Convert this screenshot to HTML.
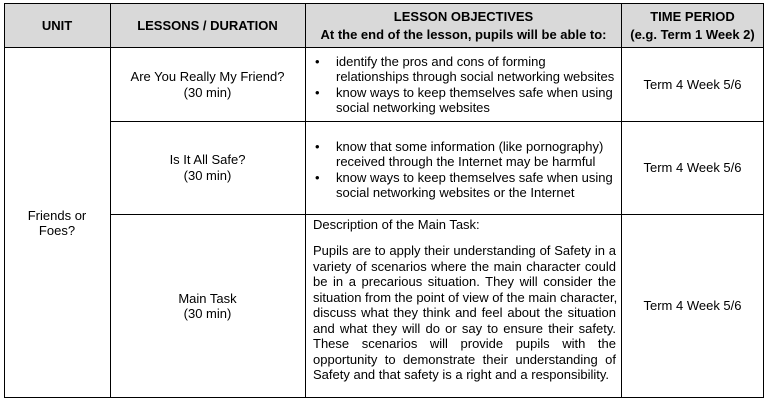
<!DOCTYPE html>
<html><head><meta charset="utf-8"><style>
body{margin:0;width:767px;height:401px;background:#fff;font-family:"Liberation Sans",Arial,sans-serif;font-size:13px;color:#000;position:relative;overflow:hidden}
.c{position:absolute;box-sizing:border-box;display:flex;align-items:center;justify-content:center;text-align:center;line-height:15.5px}
.hd{background:#d9d9d9;font-weight:bold;font-size:13px;line-height:18px}
.ln{position:absolute;background:#000}
ul{margin:0;padding:0;list-style:none;text-align:left}
li{position:relative;padding-left:22px;white-space:nowrap}
li:before{content:"•";position:absolute;left:1px;font-size:13px}
.j span{display:block;text-align:justify;text-align-last:justify;white-space:nowrap}
.j span.l{text-align-last:left}
</style></head><body>
<div class="c hd" style="left:4px;top:3px;width:106px;height:45px">UNIT</div>
<div class="c hd" style="left:110px;top:3px;width:195px;height:45px">LESSONS / DURATION</div>
<div class="c hd" style="left:305px;top:3px;width:317px;height:45px">LESSON OBJECTIVES<br>At the end of the lesson, pupils will be able to:</div>
<div class="c hd" style="left:622px;top:3px;width:141px;height:45px">TIME PERIOD<br>(e.g. Term 1 Week 2)</div>

<div class="c" style="left:4px;top:48px;width:106px;height:350px">Friends or<br>Foes?</div>

<div class="c" style="left:110px;top:48px;width:195px;height:73px">Are You Really My Friend?<br>(30 min)</div>
<div class="c" style="left:305px;top:48px;width:317px;height:73px;justify-content:flex-start;padding-left:9px"><ul><li>identify the pros and cons of forming<br>relationships through social networking websites</li><li>know ways to keep themselves safe when using<br>social networking websites</li></ul></div>
<div class="c" style="left:622px;top:48px;width:141px;height:73px">Term 4 Week 5/6</div>

<div class="c" style="left:110px;top:121px;width:195px;height:93px">Is It All Safe?<br>(30 min)</div>
<div class="c" style="left:305px;top:121px;width:317px;height:93px;justify-content:flex-start;padding-left:9px;padding-top:4px"><ul><li>know that some information (like pornography)<br>received through the Internet may be harmful</li><li>know ways to keep themselves safe when using<br>social networking websites or the Internet</li></ul></div>
<div class="c" style="left:622px;top:121px;width:141px;height:93px">Term 4 Week 5/6</div>

<div class="c" style="left:110px;top:214px;width:195px;height:184px">Main Task<br>(30 min)</div>
<div class="j" style="position:absolute;left:313px;top:217px;width:303px;line-height:15.5px">
<span class="l">Description of the Main Task:</span><span class="l" style="height:10.5px"></span>
<span>Pupils are to apply their understanding of Safety in a</span>
<span>variety of scenarios where the main character could</span>
<span>be in a precarious situation. They will consider the</span>
<span>situation from the point of view of the main character,</span>
<span>discuss what they think and feel about the situation</span>
<span>and what they will do or say to ensure their safety.</span>
<span>These scenarios will provide pupils with the</span>
<span>opportunity to demonstrate their understanding of</span>
<span class="l">Safety and that safety is a right and a responsibility.</span>
</div>
<div class="c" style="left:622px;top:214px;width:141px;height:184px">Term 4 Week 5/6</div>

<div class="ln" style="left:4px;top:3px;width:760px;height:1px"></div>
<div class="ln" style="left:4px;top:47px;width:760px;height:1px"></div>
<div class="ln" style="left:110px;top:121px;width:654px;height:1px"></div>
<div class="ln" style="left:110px;top:214px;width:654px;height:1px"></div>
<div class="ln" style="left:4px;top:397px;width:760px;height:1px"></div>
<div class="ln" style="left:4px;top:3px;width:1px;height:395px"></div>
<div class="ln" style="left:110px;top:3px;width:1px;height:395px"></div>
<div class="ln" style="left:305px;top:3px;width:1px;height:395px"></div>
<div class="ln" style="left:621px;top:3px;width:1px;height:395px"></div>
<div class="ln" style="left:763px;top:3px;width:1px;height:395px"></div>
</body></html>
